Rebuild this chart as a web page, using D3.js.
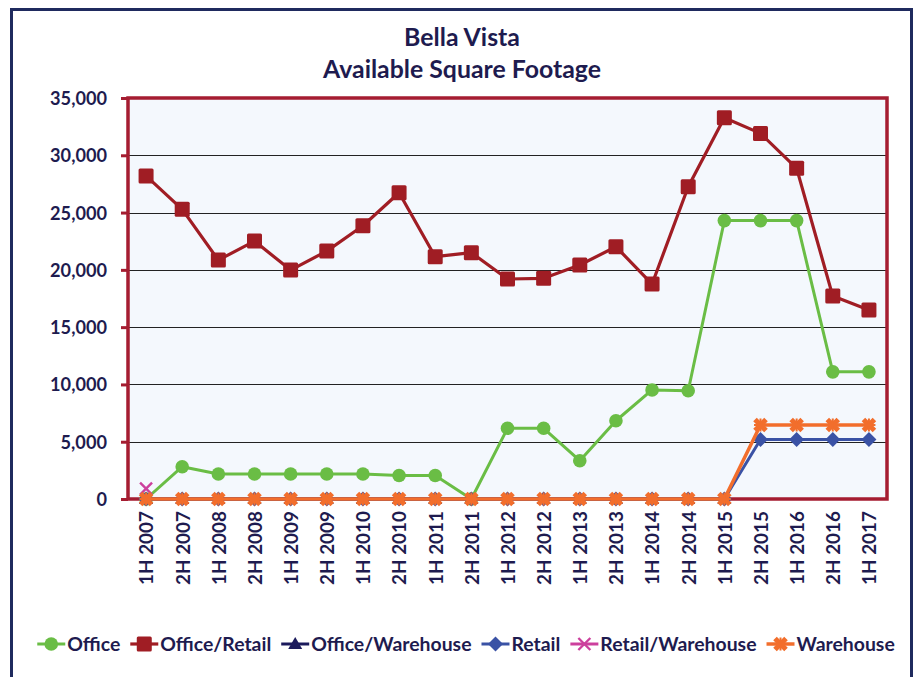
<!DOCTYPE html>
<html>
<head>
<meta charset="utf-8">
<script src="https://cdn.jsdelivr.net/npm/d3@7"></script>
<style>
  html, body { margin: 0; padding: 0; background: #ffffff; }
  svg { display: block; }
  text { font-family: Lato, "Open Sans", sans-serif; font-weight: 700; fill: #1e1b4f; }
</style>
</head>
<body>
<script>
// Half-year periods on the category axis
const categories = [
  "1H 2007", "2H 2007", "1H 2008", "2H 2008", "1H 2009", "2H 2009", "1H 2010",
  "2H 2010", "1H 2011", "2H 2011", "1H 2012", "2H 2012", "1H 2013", "2H 2013",
  "1H 2014", "2H 2014", "1H 2015", "2H 2015", "1H 2016", "2H 2016", "1H 2017"
];

// Available square footage by property type
const office = [0, 2820, 2180, 2180, 2180, 2180, 2180, 2050, 2050, 0, 6170,
  6170, 3340, 6830, 9520, 9450, 24300, 24300, 24300, 11100, 11100];
const officeRetail = [28200, 25280, 20850, 22510, 19980, 21640, 23850, 26730,
  21150, 21500, 19200, 19260, 20420, 22020, 18760, 27250, 33270, 31910, 28860,
  17710, 16490];
const officeWarehouse = [0, 0, 0, 0, 0, 0, 0, 0, 0, 0, 0, 0, 0, 0, 0, 0, 0,
  null, null, null, null];
const retail = [0, 0, 0, 0, 0, 0, 0, 0, 0, 0, 0, 0, 0, 0, 0, 0, 0,
  5200, 5200, 5200, 5200];
const retailWarehouse = [900, null, null, null, null, null, null, null, null,
  null, null, null, null, null, null, null, null, null, null, null, null];
const warehouse = [0, 0, 0, 0, 0, 0, 0, 0, 0, 0, 0, 0, 0, 0, 0, 0, 0,
  6450, 6450, 6450, 6450];

const yTicks = [0, 5000, 10000, 15000, 20000, 25000, 30000, 35000];
const titleLines = ["Bella Vista", "Available Square Footage"];

const seriesList = [
  { name: "Office", values: office, color: "#6abd45", marker: "circle", width: 3 },
  { name: "Office/Retail", values: officeRetail, color: "#a01d24", marker: "square", width: 3.2 },
  { name: "Office/Warehouse", values: officeWarehouse, color: "#1b1a5c", marker: "triangle", width: 3 },
  { name: "Retail", values: retail, color: "#3a52a5", marker: "diamond", width: 3 },
  { name: "Retail/Warehouse", values: retailWarehouse, color: "#cc409d", marker: "cross", width: 3 },
  { name: "Warehouse", values: warehouse, color: "#f26e2c", marker: "star", width: 3.5 }
];

const W = 918, H = 677;
const plot = { left: 128, right: 887, top: 98, bottom: 499 };

const svg = d3.select("body").append("svg").attr("width", W).attr("height", H);

// Outer chart border (runs off the bottom edge)
svg.append("rect")
  .attr("x", 11.5).attr("y", 9.5).attr("width", 900).attr("height", 700)
  .attr("fill", "#ffffff").attr("stroke", "#1f2a5e").attr("stroke-width", 3);

// Scale a font so a sample string fills a given width
function fitSize(sample, targetWidth, base) {
  const t = svg.append("text").attr("font-size", base).text(sample);
  const w = t.node().getComputedTextLength();
  t.remove();
  return base * targetWidth / w;
}

const titleSize = fitSize(titleLines[1], 278, 24);
const yTickSize = fitSize("35,000", 57, 17);
const xTickSize = fitSize("1H 2007", 74, 17);
const legendSize = fitSize("Office/Retail", 111, 17);

// Title
svg.append("g").selectAll("text").data(titleLines).join("text")
  .attr("x", 462).attr("y", (d, i) => 46 + i * 32)
  .attr("text-anchor", "middle")
  .attr("font-size", titleSize)
  .text(d => d);

const x = d3.scalePoint().domain(categories).range([plot.left, plot.right]).padding(0.5);
const y = d3.scaleLinear().domain([0, 35000]).range([plot.bottom, plot.top]);

// Plot background
svg.append("rect")
  .attr("x", plot.left).attr("y", plot.top)
  .attr("width", plot.right - plot.left).attr("height", plot.bottom - plot.top)
  .attr("fill", "#f4f8fd");

// Horizontal gridlines
svg.append("g").selectAll("line").data(yTicks.filter(v => v > 0 && v < 35000)).join("line")
  .attr("x1", plot.left).attr("x2", plot.right)
  .attr("y1", d => Math.round(y(d)) + 0.5).attr("y2", d => Math.round(y(d)) + 0.5)
  .attr("stroke", "#222").attr("stroke-width", 1.1);

// Y axis with comma-formatted ticks
const yAxis = svg.append("g")
  .attr("transform", `translate(${plot.left},0)`)
  .call(d3.axisLeft(y).tickValues(yTicks).tickFormat(d3.format(",")).tickSize(7).tickPadding(14));
yAxis.select(".domain").remove();
yAxis.selectAll(".tick line").attr("stroke", "#a51d31").attr("stroke-width", 3);
yAxis.selectAll(".tick text")
  .attr("font-size", yTickSize).attr("font-family", null).attr("fill", "#1e1b4f")
  .attr("dy", "0.36em");

// X axis with rotated period labels
const xAxis = svg.append("g")
  .attr("transform", `translate(0,${plot.bottom})`)
  .call(d3.axisBottom(x).tickSize(0).tickPadding(0));
xAxis.select(".domain").remove();
xAxis.selectAll(".tick text")
  .attr("font-size", xTickSize).attr("font-family", null).attr("fill", "#1e1b4f")
  .attr("transform", "rotate(-90)")
  .attr("text-anchor", "end")
  .attr("x", -12).attr("y", 0).attr("dy", "0.36em");

// Plot frame
svg.append("rect")
  .attr("x", plot.left).attr("y", plot.top)
  .attr("width", plot.right - plot.left).attr("height", plot.bottom - plot.top)
  .attr("fill", "none").attr("stroke", "#a51d31").attr("stroke-width", 3.5);

// Marker shapes
function drawMarker(g, type, color) {
  switch (type) {
    case "circle":
      g.append("circle").attr("r", 6.8).attr("fill", color);
      break;
    case "square":
      g.append("rect").attr("x", -7.5).attr("y", -7.5).attr("width", 15).attr("height", 15)
        .attr("rx", 1.5).attr("fill", color);
      break;
    case "triangle":
      g.append("path").attr("d", "M0,-7 L7,5 L-7,5 Z").attr("fill", color);
      break;
    case "diamond":
      g.append("path").attr("d", "M0,-7.5 L7.5,0 L0,7.5 L-7.5,0 Z").attr("fill", color);
      break;
    case "cross":
      g.append("path").attr("d", "M-6,-6 L6,6 M-6,6 L6,-6")
        .attr("stroke", color).attr("stroke-width", 2.4).attr("fill", "none");
      break;
    case "star":
      g.append("path").attr("d", "M-5.5,-5.5 L5.5,5.5 M-5.5,5.5 L5.5,-5.5")
        .attr("stroke", color).attr("stroke-width", 5).attr("fill", "none");
      g.append("path").attr("d", "M-6.5,0 L6.5,0 M0,-6.5 L0,6.5")
        .attr("stroke", color).attr("stroke-width", 2).attr("fill", "none");
      break;
  }
}

// Series lines and markers
const line = d3.line()
  .defined(d => d.v != null)
  .x(d => x(d.c))
  .y(d => y(d.v));

seriesList.forEach(s => {
  const pts = s.values.map((v, i) => ({ c: categories[i], v }));
  const g = svg.append("g");
  g.append("path").datum(pts).attr("d", line)
    .attr("fill", "none").attr("stroke", s.color).attr("stroke-width", s.width)
    .attr("stroke-linejoin", "round");
  g.selectAll("g.pt").data(pts.filter(d => d.v != null)).join("g")
    .attr("class", "pt")
    .attr("transform", d => `translate(${x(d.c)},${y(d.v)})`)
    .each(function () { drawMarker(d3.select(this), s.marker, s.color); });
});

// Legend laid out in a single row, centred under the chart
const legend = svg.append("g");
let cursor = 0;
const legendY = 644;
seriesList.forEach(s => {
  const item = legend.append("g").attr("transform", `translate(${cursor},${legendY})`);
  item.append("line").attr("x1", 0).attr("x2", 28).attr("y1", 0).attr("y2", 0)
    .attr("stroke", s.color).attr("stroke-width", s.width);
  const m = item.append("g").attr("transform", "translate(14,0)");
  drawMarker(m, s.marker, s.color);
  const t = item.append("text").attr("x", 30).attr("y", 0).attr("dy", "0.36em")
    .attr("font-size", legendSize).text(s.name);
  cursor += 30 + t.node().getComputedTextLength() + 10;
});
const legendWidth = cursor - 10;
legend.attr("transform", `translate(${466 - legendWidth / 2},0)`);
</script>
</body>
</html>
